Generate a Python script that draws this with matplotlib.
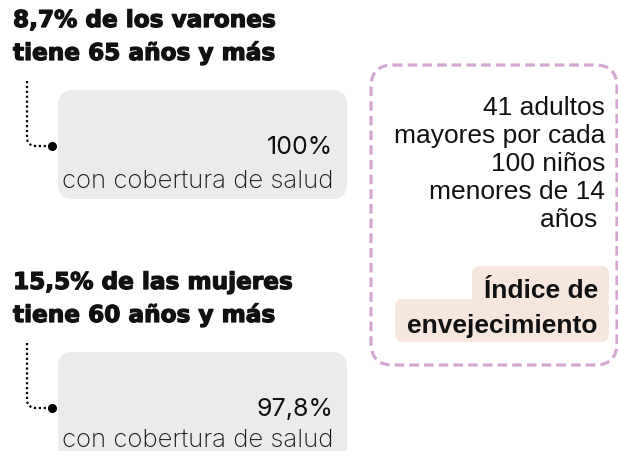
import numpy as np
import matplotlib.pyplot as plt
import matplotlib.patheffects as pe
from matplotlib.patches import FancyBboxPatch

# data
headings = [["8,7% de los varones", "tiene 65 años y más"],
            ["15,5% de las mujeres", "tiene 60 años y más"]]
coverage = ["100%", "97,8%"]
coverage_label = "con cobertura de salud"
index_lines = ["41 adultos", "mayores por cada", "100 niños", "menores de 14", "años "]
index_title = ["Índice de", "envejecimiento"]

fig = plt.figure(figsize=(6.18, 4.52), dpi=100)
ax = fig.add_axes([0, 0, 1, 1])
ax.set_xlim(0, 618)
ax.set_ylim(452, 0)
ax.axis("off")

gray = "#ebebeb"
head_font = dict(family="DejaVu Sans", fontweight="bold", fontsize=16.7, color="#111111",
                 path_effects=[pe.withStroke(linewidth=0.9, foreground="#111111")])
body_font = dict(family="Inter", fontweight="light", fontsize=18.5, color="#1a1a1a")

# two blocks on the left
tops = [0, 262]
for k, off in enumerate(tops):
    ax.text(13, 28 + off, headings[k][0], ha="left", va="baseline", **head_font)
    ax.text(13, 61 + off, headings[k][1], ha="left", va="baseline", **head_font)

    ax.add_patch(FancyBboxPatch((58, 91 + off), 289, 109 + (40 if k else 0),
                                boxstyle="round,pad=0,rounding_size=15",
                                fc=gray, ec="none"))

    # dotted connector
    r = 8
    y_dot = 147 + off
    th = np.linspace(np.pi, np.pi / 2, 12)
    xs = np.concatenate([[27, 27], 27 + r + r * np.cos(th), [50]])
    ys = np.concatenate([[82 + off, y_dot - r], y_dot - r + r * np.sin(th), [y_dot]])
    ax.plot(xs, ys, color="black", lw=1.6, ls=(0, (1, 1.2)))
    ax.plot(52, y_dot, "o", color="black", ms=5.5)

    ax.text(333, 154 + off, coverage[k], ha="right", va="baseline",
            family="Inter", fontsize=18, color="#111111")
    ax.text(333, 188 + off - (3 if k else 0), coverage_label, ha="right", va="baseline",
            **body_font)

# dashed box on the right
ax.add_patch(FancyBboxPatch((371, 66), 246, 300,
                            boxstyle="round,pad=0,rounding_size=22",
                            fc="none", ec="#d4a7d0", lw=2.3, ls=(0, (3, 1.6))))

for i, line in enumerate(index_lines):
    ax.text(605, 115 + i * 28, line, ha="right", va="baseline",
            family="Liberation Sans", fontsize=19, color="#111111")

peach = "#f6e7de"
ax.add_patch(FancyBboxPatch((472, 267), 137, 40,
                            boxstyle="round,pad=0,rounding_size=8", fc=peach, ec="none"))
ax.add_patch(FancyBboxPatch((395, 300), 214, 43,
                            boxstyle="round,pad=0,rounding_size=8", fc=peach, ec="none"))
ax.text(598, 298, index_title[0], ha="right", va="baseline",
        family="Liberation Sans", fontweight="bold", fontsize=19, color="#111111")
ax.text(598, 333, index_title[1], ha="right", va="baseline",
        family="Liberation Sans", fontweight="bold", fontsize=19, color="#111111")

fig.savefig("out.png", dpi=100, facecolor="white")
